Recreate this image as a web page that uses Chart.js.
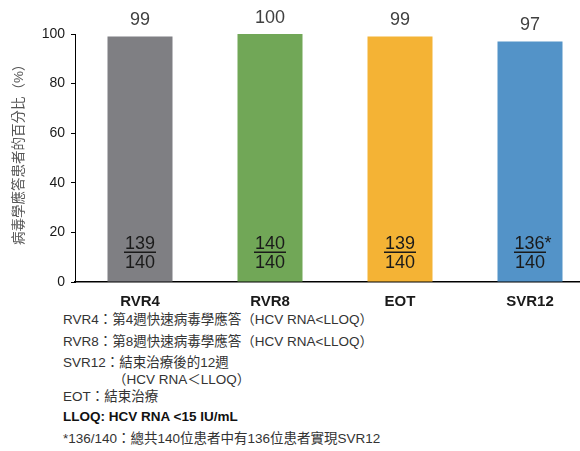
<!DOCTYPE html>
<html>
<head>
<meta charset="utf-8">
<script src="https://cdn.jsdelivr.net/npm/chart.js@4.4.1/dist/chart.umd.min.js"></script>
<style>
	body { margin: 0; width: 580px; height: 451px; overflow: hidden; background: #fff; position: relative; font-family: "Liberation Sans", "Noto Sans CJK TC", sans-serif; }
	#wrap { position: absolute; left: 0; top: 0; width: 596px; height: 310px; }
	.note { position: absolute; left: 63px; font-size: 13.5px; color: #333; white-space: nowrap; line-height: 1; }
	.note.b { font-weight: bold; color: #111; }
</style>
</head>
<body>
<div id="wrap"><canvas id="myChart"></canvas></div>
<div class="note" style="top:313px">RVR4：第4週快速病毒學應答（HCV RNA&lt;LLOQ）</div>
<div class="note" style="top:335px">RVR8：第8週快速病毒學應答（HCV RNA&lt;LLOQ）</div>
<div class="note" style="top:356px">SVR12：結束治療後的12週</div>
<div class="note" style="top:373px; left:113px">（HCV RNA＜LLOQ）</div>
<div class="note" style="top:390px">EOT：結束治療</div>
<div class="note b" style="top:410px">LLOQ: HCV RNA &lt;15 IU/mL</div>
<div class="note" style="top:432px">*136/140：總共140位患者中有136位患者實現SVR12</div>
<script>
var categories = ['RVR4', 'RVR8', 'EOT', 'SVR12'];
var percents = [99, 100, 99, 97];
var responders = ['139', '140', '139', '136*'];
var totals = ['140', '140', '140', '140'];
var colors = ['#7f7f83', '#71a757', '#f4b335', '#5393c8'];

var FONT = '"Liberation Sans", "Noto Sans CJK TC", sans-serif';

// value above the bar + fraction inside it
var barText = {
	id: 'barText',
	afterDatasetsDraw: function(chart) {
		var ctx = chart.ctx;
		var meta = chart.getDatasetMeta(0);
		var yScale = chart.scales.y;
		ctx.save();
		ctx.textAlign = 'center';
		meta.data.forEach(function(bar, i) {
			ctx.textBaseline = 'middle';
			ctx.fillStyle = '#404040';
			ctx.font = '18px ' + FONT;
			ctx.fillText(percents[i], bar.x, bar.y - 16);

			var lineY = yScale.getPixelForValue(12);
			ctx.textBaseline = 'alphabetic';
			ctx.fillStyle = '#1a1a1a';
			ctx.fillText(responders[i], bar.x + (responders[i].length > 3 ? 3 : 0), lineY - 3);
			ctx.fillText(totals[i], bar.x, lineY + 16);
			ctx.strokeStyle = '#1a1a1a';
			ctx.lineWidth = 1.5;
			ctx.beginPath();
			ctx.moveTo(bar.x - 16, lineY);
			ctx.lineTo(bar.x + 16, lineY);
			ctx.stroke();
		});
		ctx.restore();
	}
};

var ctx = document.getElementById('myChart').getContext('2d');
var chart = new Chart(ctx, {
	type: 'bar',
	data: {
		labels: categories,
		datasets: [{
			data: percents,
			backgroundColor: colors,
			borderWidth: 0,
			barPercentage: 0.5,
			categoryPercentage: 1
		}]
	},
	options: {
		responsive: true,
		maintainAspectRatio: false,
		animation: false,
		layout: { padding: { top: 34, right: 1, left: 0, bottom: 0 } },
		plugins: {
			legend: { display: false },
			tooltip: { enabled: false }
		},
		scales: {
			x: {
				grid: { display: false, drawTicks: false },
				border: { color: '#000', width: 1.5 },
				ticks: { color: '#1a1a1a', padding: 11, font: { family: FONT, size: 15, weight: 'bold' } },
				afterFit: function(s) { s.height = 28; }
			},
			y: {
				min: 0,
				max: 100,
				ticks: { stepSize: 20, color: '#1a1a1a', padding: 6, font: { family: FONT, size: 14 } },
				grid: { drawOnChartArea: false, drawTicks: true, tickLength: 4, color: '#000' },
				border: { color: '#000', width: 1 },
				title: {
					display: true,
					// leading ideographic space nudges the title up a little, like the original
					text: '\u3000病毒學應答患者的百分比（%）',
					color: '#555',
					font: { family: FONT, size: 13.5 },
					padding: { top: 11, bottom: 0 }
				},
				afterFit: function(s) { s.width = 75; }
			}
		}
	},
	plugins: [barText]
});
</script>
</body>
</html>
